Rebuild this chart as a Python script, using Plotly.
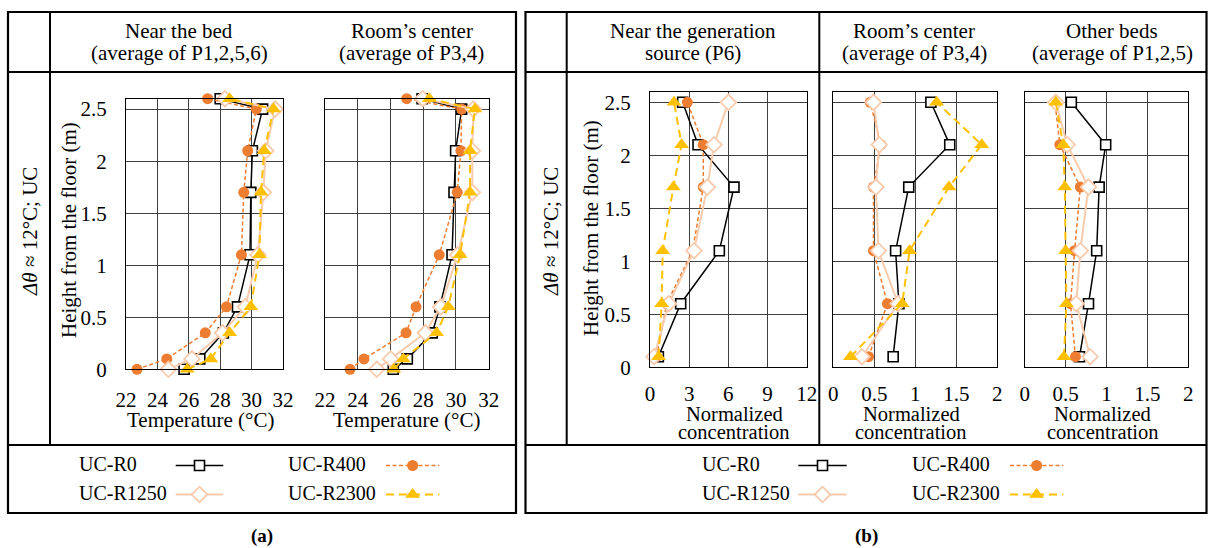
import plotly.graph_objects as go

W, H = 1208, 548
FONT = "Liberation Serif"

# ---------------- data ----------------
series = ["UC-R0", "UC-R400", "UC-R1250", "UC-R2300"]

heights_T = [0, 0.1, 0.35, 0.6, 1.1, 1.7, 2.1, 2.5, 2.6]
heights_C = [0.1, 0.6, 1.1, 1.7, 2.1, 2.5]

# (a) temperature, near the bed (average of P1,2,5,6)
temp_bed_R0 = [25.7, 26.7, 28.2, 29.1, 29.9, 29.95, 30.05, 30.7, 28.0]
temp_bed_R400 = [22.7, 24.6, 27.05, 28.4, 29.35, 29.5, 29.75, 30.3, 27.2]
temp_bed_R1250 = [24.7, 26.2, 28.15, 29.6, 30.4, 30.75, 30.9, 31.5, 28.3]
temp_bed_R2300 = [25.9, 27.4, 28.6, 29.95, 30.5, 30.6, 30.8, 31.4, 28.6]

# (a) temperature, room's center (average of P3,4)
temp_center_R0 = [26.17, 27.03, 28.55, 29.02, 29.76, 29.88, 29.98, 30.35, 27.93]
temp_center_R400 = [23.53, 24.38, 26.95, 27.56, 28.98, 30.08, 30.3, 30.35, 26.99]
temp_center_R1250 = [25.16, 26.01, 28.13, 29.07, 30.1, 31.0, 31.0, 31.06, 27.97]
temp_center_R2300 = [26.2, 26.78, 28.82, 29.53, 30.25, 30.86, 30.86, 31.16, 28.37]

# (b) normalized concentration, near the generation source (P6)
conc_source_R0 = [0.64, 2.35, 5.31, 6.43, 3.68, 2.5]
conc_source_R400 = [0.5, 1.28, 3.27, 4.08, 4.08, 2.86]
conc_source_R1250 = [0.31, 1.43, 3.37, 4.39, 4.9, 6.0]
conc_source_R2300 = [0.66, 0.89, 0.97, 1.79, 2.42, 1.84]

# (b) normalized concentration, room's center (average of P3,4)
conc_center_R0 = [0.73, 0.80, 0.76, 0.92, 1.42, 1.19]
conc_center_R400 = [0.43, 0.66, 0.49, 0.49, 0.58, 0.45]
conc_center_R1250 = [0.35, 0.79, 0.55, 0.52, 0.56, 0.49]
conc_center_R2300 = [0.21, 0.84, 0.93, 1.41, 1.81, 1.26]

# (b) normalized concentration, other beds (average of P1,2,5)
conc_beds_R0 = [0.67, 0.78, 0.88, 0.91, 0.99, 0.57]
conc_beds_R400 = [0.62, 0.56, 0.61, 0.68, 0.43, 0.37]
conc_beds_R1250 = [0.80, 0.63, 0.68, 0.78, 0.52, 0.38]
conc_beds_R2300 = [0.48, 0.51, 0.50, 0.49, 0.47, 0.38]

temp_ticks = [22, 24, 26, 28, 30, 32]
conc_ticks_source = [0, 3, 6, 9, 12]
conc_ticks_other = [0, 0.5, 1, 1.5, 2]
height_ticks = [0, 0.5, 1, 1.5, 2, 2.5]

# ---------------- styles ----------------
styles = {
    "UC-R0": dict(color="black", width=1.5, dash="solid", symbol="square",
                  mcolor="white", mline="black", mlw=1.6, size=10),
    "UC-R400": dict(color="#ED7D31", width=1.5, dash="4px,2.5px", symbol="circle",
                    mcolor="#ED7D31", mline="#ED7D31", mlw=0, size=11),
    "UC-R1250": dict(color="#F8CBAD", width=2, dash="solid", symbol="diamond",
                     mcolor="white", mline="#F8CBAD", mlw=1.8, size=12),
    "UC-R2300": dict(color="#FFC000", width=2, dash="8px,5px", symbol="triangle-up",
                     mcolor="#FFC000", mline="#FFC000", mlw=0, size=13),
}


def px_x(v):
    return v / W


def px_y(v):
    return 1 - v / H


fig = go.Figure()

panels = [
    # axis id, x data per series, heights, x-domain px, y-domain px
    ("", [temp_bed_R0, temp_bed_R400, temp_bed_R1250, temp_bed_R2300], heights_T, (126, 283), (98.7, 369.3)),
    ("2", [temp_center_R0, temp_center_R400, temp_center_R1250, temp_center_R2300], heights_T, (325, 488.7), (98.7, 369.3)),
    ("3", [conc_source_R0, conc_source_R400, conc_source_R1250, conc_source_R2300], heights_C, (650, 806.7), (91.7, 367.3)),
    ("4", [conc_center_R0, conc_center_R400, conc_center_R1250, conc_center_R2300], heights_C, (833.3, 997.3), (91.7, 367.3)),
    ("5", [conc_beds_R0, conc_beds_R400, conc_beds_R1250, conc_beds_R2300], heights_C, (1024.7, 1188.3), (91.7, 367.3)),
]

for aid, xs_list, hs, _, _ in panels:
    for name, xs in zip(series, xs_list):
        s = styles[name]
        fig.add_trace(go.Scatter(
            x=xs, y=hs, mode="lines+markers", name=name, showlegend=False,
            xaxis="x" + aid, yaxis="y" + aid, cliponaxis=False,
            line=dict(color=s["color"], width=s["width"], dash=s["dash"]),
            marker=dict(symbol=s["symbol"], size=s["size"], color=s["mcolor"],
                        line=dict(color=s["mline"], width=s["mlw"])),
        ))

axis_common = dict(showline=True, mirror=True, linecolor="black", linewidth=1.2,
                   showgrid=True, gridcolor="#404040", gridwidth=1, zeroline=False,
                   ticks="", tickfont=dict(family=FONT, size=21, color="black"))

layout_axes = {}
x_ranges = [(22, 32, temp_ticks), (22, 32, temp_ticks), (0, 12, conc_ticks_source),
            (0, 2, conc_ticks_other), (0, 2, conc_ticks_other)]
for i, (aid, _, _, xd, yd) in enumerate(panels):
    r0, r1, tv = x_ranges[i]
    key = aid if aid else ""
    layout_axes["xaxis" + key] = dict(
        axis_common, domain=[px_x(xd[0]), px_x(xd[1])], range=[r0, r1],
        tickvals=tv, anchor="y" + aid, ticklabelstandoff=11 if i < 2 else 7)
    layout_axes["yaxis" + key] = dict(
        axis_common, domain=[px_y(yd[1]), px_y(yd[0])], range=[0, 2.6],
        tickvals=height_ticks, anchor="x" + aid,
        showticklabels=(i in (0, 2)), ticklabelstandoff=14)

# legend overlay axes spanning the whole figure (reference-pixel units)
layout_axes["xaxis6"] = dict(domain=[0, 1], range=[0, W], visible=False, anchor="y6", fixedrange=True)
layout_axes["yaxis6"] = dict(domain=[0, 1], range=[H, 0], visible=False, anchor="x6", fixedrange=True)

# ---------------- frames ----------------
shapes = []


def line(x0, y0, x1, y1, w=2):
    shapes.append(dict(type="line", xref="paper", yref="paper",
                       x0=px_x(x0), y0=px_y(y0), x1=px_x(x1), y1=px_y(y1),
                       line=dict(color="black", width=w)))


def rect(x0, y0, x1, y1, w=2.2):
    shapes.append(dict(type="rect", xref="paper", yref="paper",
                       x0=px_x(x0), y0=px_y(y0), x1=px_x(x1), y1=px_y(y1),
                       line=dict(color="black", width=w)))


rect(8, 12, 516, 513)
line(8, 72, 516, 72)
line(8, 445, 516, 445)
line(50, 12, 50, 445)

rect(525.5, 12, 1206.5, 513)
line(525.5, 72, 1206.5, 72)
line(525.5, 445, 1206.5, 445)
line(566.7, 12, 566.7, 445)
line(819.3, 12, 819.3, 445)

# ---------------- text ----------------
annotations = []


def text(s, x, y, size=21, angle=0, xanchor="center", bold=False):
    annotations.append(dict(
        text=("<b>%s</b>" % s) if bold else s, x=px_x(x), y=px_y(y), xref="paper", yref="paper",
        showarrow=False, xanchor=xanchor, yanchor="middle", textangle=angle,
        font=dict(family=FONT, size=size, color="black")))


header1, header2 = 31, 52.5
text("Near the bed", 179, header1)
text("(average of P1,2,5,6)", 179, header2)
text("Room’s center", 411.7, header1)
text("(average of P3,4)", 411.7, header2)
text("Near the generation", 693, header1)
text("source (P6)", 693, header2)
text("Room’s center", 914, header1)
text("(average of P3,4)", 914, header2)
text("Other beds", 1112, header1)
text("(average of P1,2,5)", 1112, header2)

text("Temperature (°C)", 200, 419.5)
text("Temperature (°C)", 406, 419.5)
for cx in (734, 911, 1102.5):
    text("Normalized", cx, 413.5, size=20.5)
    text("concentration", cx, 432, size=20.5)

text("Height from the floor (m)", 69, 230, angle=-90)
text("Height from the floor (m)", 591, 228, angle=-90)
text("<i>Δθ</i> ≈ 12°C; UC", 30, 232, angle=-90)
text("<i>Δθ</i> ≈ 12°C; UC", 551, 232, angle=-90)

text("(a)", 262, 535.5, size=19, bold=True)
text("(b)", 866, 535.5, size=19, bold=True)

# ---------------- custom legends ----------------
legend_rows = (465.5, 494.5)
legend_layout = [
    # (text x, line x0, line x1) per column, for panel a and b
    ((76.7, 175.7, 223.3), (286, 386, 439.3)),
    ((700, 798.3, 846.7), (910, 1010, 1063.3)),
]
legend_order = [("UC-R0", 0, 0), ("UC-R1250", 0, 1), ("UC-R400", 1, 0), ("UC-R2300", 1, 1)]

for cols in legend_layout:
    for name, ci, ri in legend_order:
        tx, lx0, lx1 = cols[ci]
        ry = legend_rows[ri]
        s = styles[name]
        text(name, tx, ry - 1.5, size=20, xanchor="left")
        fig.add_trace(go.Scatter(
            x=[lx0, lx1], y=[ry, ry], mode="lines", showlegend=False, hoverinfo="skip",
            xaxis="x6", yaxis="y6",
            line=dict(color=s["color"], width=s["width"], dash=s["dash"])))
        fig.add_trace(go.Scatter(
            x=[(lx0 + lx1) / 2], y=[ry], mode="markers", showlegend=False, hoverinfo="skip",
            xaxis="x6", yaxis="y6",
            marker=dict(symbol=s["symbol"], size=s["size"], color=s["mcolor"],
                        line=dict(color=s["mline"], width=s["mlw"]))))

fig.update_layout(
    autosize=True, margin=dict(l=0, r=0, t=0, b=0, autoexpand=False),
    paper_bgcolor="white", plot_bgcolor="rgba(0,0,0,0)",
    showlegend=False, shapes=shapes, annotations=annotations,
    font=dict(family=FONT, size=21, color="black"),
    **layout_axes,
)

page_fix = (
    "document.documentElement.style.margin='0';"
    "document.documentElement.style.padding='0';"
    "document.documentElement.style.overflow='hidden';"
    "document.body.style.margin='0';document.body.style.padding='0';"
    "document.body.style.overflow='hidden';"
    "var gd=document.getElementById('{plot_id}');"
    "gd.style.position='fixed';gd.style.left='0px';gd.style.top='0px';"
    "gd.style.width='100vw';gd.style.height='100vh';"
    "Plotly.Plots.resize(gd);"
)

fig.write_html("out.html", config={"displayModeBar": False, "responsive": True},
               default_width="100vw", default_height="100vh", post_script=page_fix)
